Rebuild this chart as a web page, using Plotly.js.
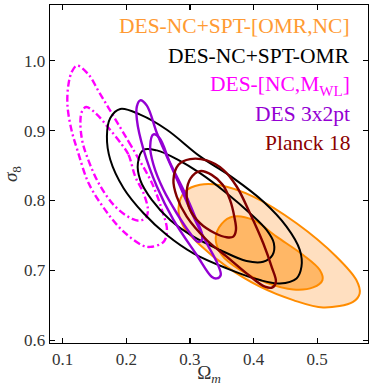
<!DOCTYPE html>
<html>
<head>
<meta charset="utf-8">
<script src="https://cdn.plot.ly/plotly-3.0.1.min.js"></script>
<style>
  html, body { margin: 0; padding: 0; background: #fff; }
  #grafico { width: 374px; height: 386px; }
</style>
</head>
<body>
<div id="grafico"></div>
<script>
// ---------------------------------------------------------------------
// CONTORNOS (Omega_m, sigma_8): 68% y 95%
// ---------------------------------------------------------------------
const omrNcOuterX = [0.3996, 0.4676, 0.5303, 0.5617, 0.5669, 0.5565, 0.5094, 0.4624, 0.4101, 0.3578, 0.3159, 0.2898, 0.2820, 0.2924, 0.3159, 0.3473, 0.3996];
const omrNcOuterY = [0.8057, 0.7675, 0.7196, 0.6861, 0.6670, 0.6550, 0.6469, 0.6574, 0.6766, 0.7053, 0.7364, 0.7627, 0.7890, 0.8129, 0.8225, 0.8220, 0.8057];
const omrNcInnerX = [0.3996, 0.4362, 0.4780, 0.5042, 0.5084, 0.4937, 0.4624, 0.4205, 0.3787, 0.3499, 0.3405, 0.3499, 0.3682, 0.3996];
const omrNcInnerY = [0.7722, 0.7483, 0.7220, 0.7005, 0.6861, 0.6756, 0.6727, 0.6823, 0.7005, 0.7220, 0.7459, 0.7665, 0.7770, 0.7722];

const omrOuterX = [0.3159, 0.3682, 0.4153, 0.4519, 0.4728, 0.4754, 0.4676, 0.4414, 0.4101, 0.3578, 0.3055, 0.2637, 0.2271, 0.1957, 0.1748, 0.1695, 0.1748, 0.1905, 0.2218, 0.2637, 0.3159];
const omrOuterY = [0.8632, 0.8321, 0.7986, 0.7627, 0.7292, 0.7053, 0.6885, 0.6813, 0.6861, 0.7029, 0.7244, 0.7507, 0.7818, 0.8177, 0.8584, 0.8919, 0.9182, 0.9311, 0.9230, 0.9014, 0.8632];
const omrInnerX = [0.3159, 0.3578, 0.3944, 0.4205, 0.4320, 0.4299, 0.4153, 0.3891, 0.3473, 0.3055, 0.2689, 0.2401, 0.2218, 0.2182, 0.2271, 0.2480, 0.2793, 0.3159];
const omrInnerY = [0.8392, 0.8105, 0.7818, 0.7579, 0.7388, 0.7220, 0.7124, 0.7134, 0.7292, 0.7483, 0.7722, 0.8010, 0.8297, 0.8536, 0.8727, 0.8718, 0.8593, 0.8392];

const ncMwlOuterX = [0.1879, 0.2036, 0.2157, 0.2404, 0.2561, 0.2639, 0.2586, 0.2377, 0.2247, 0.1933, 0.1670, 0.1408, 0.1230, 0.1137, 0.1074, 0.1090, 0.1145, 0.1226, 0.1408, 0.1565, 0.1722, 0.1879];
const ncMwlOuterY = [0.9085, 0.8845, 0.8654, 0.8247, 0.7863, 0.7576, 0.7408, 0.7336, 0.7360, 0.7576, 0.7863, 0.8247, 0.8725, 0.9013, 0.9372, 0.9660, 0.9846, 0.9932, 0.9803, 0.9563, 0.9325, 0.9085];
const ncMwlInnerX = [0.1932, 0.2035, 0.2140, 0.2271, 0.2340, 0.2313, 0.2219, 0.2093, 0.1827, 0.1565, 0.1372, 0.1304, 0.1278, 0.1301, 0.1367, 0.1513, 0.1722, 0.1932];
const ncMwlInnerY = [0.8799, 0.8655, 0.8344, 0.8105, 0.7866, 0.7765, 0.7712, 0.7736, 0.7913, 0.8249, 0.8655, 0.8870, 0.9133, 0.9272, 0.9340, 0.9254, 0.9038, 0.8799];

const y3x2OuterX = [0.2637, 0.2846, 0.3055, 0.3264, 0.3431, 0.3484, 0.3421, 0.3342, 0.3107, 0.2741, 0.2480, 0.2271, 0.2166, 0.2166, 0.2218, 0.2323, 0.2480, 0.2637];
const y3x2OuterY = [0.8632, 0.8201, 0.7770, 0.7388, 0.7100, 0.6933, 0.6885, 0.6909, 0.7220, 0.7722, 0.8201, 0.8727, 0.9158, 0.9349, 0.9435, 0.9359, 0.8967, 0.8632];
const y3x2InnerX = [0.2689, 0.2898, 0.3081, 0.3186, 0.3186, 0.3118, 0.3003, 0.2793, 0.2584, 0.2427, 0.2375, 0.2427, 0.2522, 0.2689];
const y3x2InnerY = [0.8536, 0.8153, 0.7770, 0.7531, 0.7426, 0.7412, 0.7531, 0.7818, 0.8153, 0.8512, 0.8775, 0.8947, 0.8895, 0.8536];

const planckOuterX = [0.3735, 0.3944, 0.4153, 0.4284, 0.4352, 0.4299, 0.4179, 0.3891, 0.3578, 0.3264, 0.2950, 0.2793, 0.2741, 0.2820, 0.3003, 0.3264, 0.3525, 0.3735];
const planckOuterY = [0.8201, 0.7818, 0.7388, 0.7053, 0.6837, 0.6756, 0.6766, 0.6957, 0.7196, 0.7435, 0.7770, 0.8057, 0.8297, 0.8512, 0.8593, 0.8574, 0.8440, 0.8201];
const planckInnerX = [0.3630, 0.3698, 0.3724, 0.3682, 0.3578, 0.3395, 0.3159, 0.2992, 0.2950, 0.3013, 0.3159, 0.3342, 0.3515, 0.3630];
const planckInnerY = [0.8010, 0.7770, 0.7579, 0.7483, 0.7474, 0.7531, 0.7675, 0.7890, 0.8129, 0.8321, 0.8421, 0.8368, 0.8225, 0.8010];

// leyenda como texto coloreado, de arriba a abajo
const etiquetas = ["DES-NC+SPT-[OMR,NC]", "DES-NC+SPT-OMR", "DES-[NC,M<sub>WL</sub>]", "DES 3x2pt", "Planck 18"];
const coloresEtiquetas = ["#FF9A33", "#000000", "#FF00FF", "#9400D3", "#8B0000"];
const posEtiquetasY = [0.938, 0.850, 0.763, 0.678, 0.593];

const ticksX = [0.1, 0.2, 0.3, 0.4, 0.5];
const ticksY = [0.6, 0.7, 0.8, 0.9, 1.0];

const FUENTE = "Liberation Serif, Times New Roman, serif";

function contorno(x, y, color, ancho, opciones = {}) {
  return {
    x, y,
    type: "scatter",
    mode: "lines",
    line: { color, width: ancho, shape: "spline", smoothing: 1, dash: opciones.dash || "solid" },
    fill: opciones.relleno ? "toself" : "none",
    fillcolor: opciones.relleno || undefined,
    hoverinfo: "skip",
    showlegend: false,
  };
}

const trazas = [
  contorno(omrNcOuterX, omrNcOuterY, "#FF8C00", 2, { relleno: "#FFDFC0" }),
  contorno(omrNcInnerX, omrNcInnerY, "#FF8C00", 2, { relleno: "#FFB766" }),
  contorno(ncMwlOuterX, ncMwlOuterY, "#FF00FF", 2.4, { dash: "7px,3px,2px,3px" }),
  contorno(ncMwlInnerX, ncMwlInnerY, "#FF00FF", 2.4, { dash: "7px,3px,2px,3px" }),
  contorno(omrOuterX, omrOuterY, "#000000", 2),
  contorno(omrInnerX, omrInnerY, "#000000", 2),
  contorno(y3x2OuterX, y3x2OuterY, "#9400D3", 2.4),
  contorno(y3x2InnerX, y3x2InnerY, "#9400D3", 2.4),
  contorno(planckOuterX, planckOuterY, "#800000", 2.4),
  contorno(planckInnerX, planckInnerY, "#800000", 2.4),
];

const anotaciones = etiquetas.map((txt, i) => ({
  text: txt,
  xref: "paper", yref: "paper",
  x: 0.951, y: posEtiquetasY[i],
  xanchor: "right", yanchor: "middle",
  showarrow: false,
  font: { family: FUENTE, size: 21.5, color: coloresEtiquetas[i] },
}));

const ejeBase = {
  showgrid: false,
  zeroline: false,
  showline: true,
  linecolor: "#000",
  linewidth: 1.3,
  mirror: "ticks",
  ticks: "inside",
  ticklen: 5,
  tickwidth: 1.2,
  tickcolor: "#000",
  tickfont: { family: FUENTE, size: 17, color: "#333" },
};

const layout = {
  width: 374,
  height: 386,
  margin: { l: 50, r: 6, t: 5, b: 43 },
  paper_bgcolor: "#fff",
  plot_bgcolor: "#fff",
  xaxis: {
    ...ejeBase,
    range: [0.08, 0.58],
    tickvals: ticksX,
    ticktext: ticksX.map((v) => v.toFixed(1)),
    title: { text: "Ω<sub><i>m</i></sub>", font: { family: FUENTE, size: 19, color: "#333" }, standoff: 0 },
  },
  yaxis: {
    ...ejeBase,
    range: [0.596, 1.08],
    tickvals: ticksY,
    ticktext: ticksY.map((v) => v.toFixed(1)),
    title: { text: "<i>σ</i><sub>8</sub>", font: { family: FUENTE, size: 19, color: "#333" }, standoff: 6 },
  },
  annotations: anotaciones,
  showlegend: false,
};

Plotly.newPlot("grafico", trazas, layout, { displayModeBar: false, staticPlot: true });
</script>
</body>
</html>
